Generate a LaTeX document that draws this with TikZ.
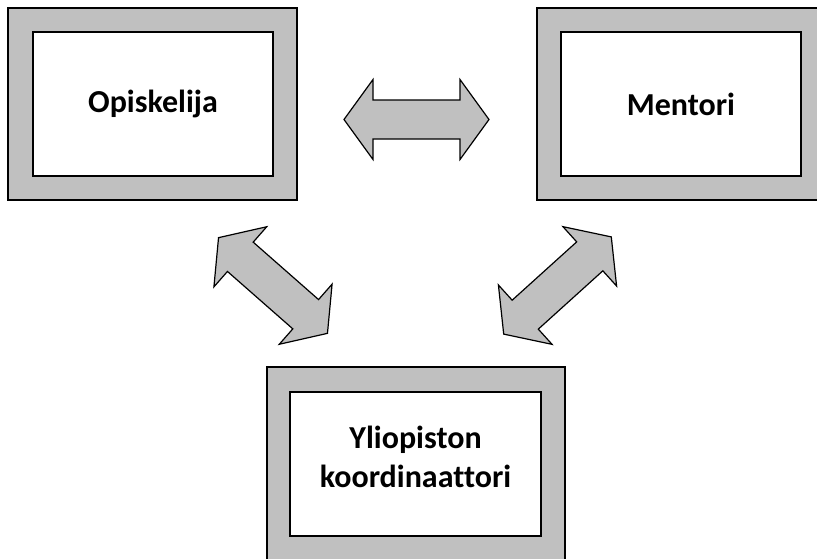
\documentclass[tikz,border=0pt]{standalone}
\usepackage{fontspec}
\setmainfont{Carlito}[Ligatures=NoCommon]
\definecolor{framegray}{RGB}{192,192,192}
\begin{document}
\begin{tikzpicture}[x=1pt,y=-1pt,
  outerbox/.style={draw=black,line width=1.3pt,fill=framegray,inner sep=0pt},
  innerbox/.style={draw=black,line width=1.3pt,fill=white,inner sep=0pt},
  boxtext/.style={align=center,inner sep=0pt,font=\fontsize{32}{39}\selectfont\bfseries},
  blockarrow/.style={draw=black,line width=1.2pt,fill=framegray,line join=miter}]
\useasboundingbox (0,0) rectangle (817,558);
\clip (0,0) rectangle (817,558);
% left box
\node[outerbox,minimum width=289pt,minimum height=192pt] (opo) at (152.5,104) {};
\node[innerbox,minimum width=240pt,minimum height=144pt] (opi) at (153,104) {};
\node[boxtext] (opit) at (opi.center) {Opiskelija};
% right box (cut by the right edge)
\node[outerbox,minimum width=300pt,minimum height=192pt] (meo) at (687,104) {};
\node[innerbox,minimum width=240pt,minimum height=144pt] (men) at (681,104) {};
\node[boxtext] (ment) at (men.center) {Mentori};
% bottom box (cut by the bottom edge)
\node[outerbox,minimum width=298pt,minimum height=210pt] (yko) at (416,472) {};
\node[innerbox,minimum width=251pt,minimum height=144pt] (yk) at (415.5,464) {};
\node[boxtext] (ykt) at (415.5,457) {Yliopiston\\koordinaattori};
% arrows
\def\arrowpath{(-72.5,0) -- (-43.5,40) -- (-43.5,19.5) -- (43.5,19.5) -- (43.5,40) -- (72.5,0) -- (43.5,-40) -- (43.5,-19.5) -- (-43.5,-19.5) -- (-43.5,-40) -- cycle}
\draw[blockarrow,shift={(416.5,119.5)}] \arrowpath;
\draw[blockarrow,shift={(273,285.5)},rotate=-41.3] \arrowpath;
\draw[blockarrow,shift={(557.5,285.5)},rotate=42.1] \arrowpath;
\end{tikzpicture}
\end{document}
